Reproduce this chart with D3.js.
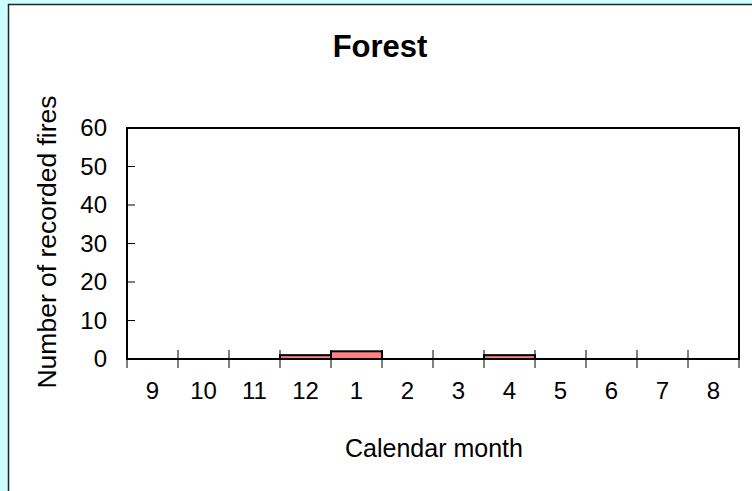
<!DOCTYPE html>
<html>
<head>
<meta charset="utf-8">
<script src="https://cdn.jsdelivr.net/npm/d3@7"></script>
<style>
  body { margin: 0; background: #CCFFFF; }
  svg { display: block; font-family: "Liberation Sans", Arial, sans-serif; }
</style>
</head>
<body>
<div id="chart"></div>
<script>
// calendar months, fire season order
var months = ["9", "10", "11", "12", "1", "2", "3", "4", "5", "6", "7", "8"];
var fires = [0, 0, 0, 1, 2, 0, 0, 1, 0, 0, 0, 0];
var yTicks = [0, 10, 20, 30, 40, 50, 60];

var width = 752, height = 491;
var plot = {left: 127, top: 128, right: 739, bottom: 359};

var svg = d3.select("#chart").append("svg")
    .attr("width", width)
    .attr("height", height);

// white chart panel (runs off the right and bottom edge)
svg.append("rect")
    .attr("x", 8.5).attr("y", 4.5)
    .attr("width", width).attr("height", height)
    .attr("fill", "#fff")
    .attr("stroke", "#222")
    .attr("stroke-width", 1.5);

var x = d3.scaleBand()
    .domain(months)
    .range([plot.left, plot.right])
    .padding(0);

var y = d3.scaleLinear()
    .domain([0, 60])
    .range([plot.bottom, plot.top]);

// bars
svg.selectAll(".bar")
    .data(fires.map(function(v, i) { return {m: months[i], v: v}; }).filter(function(d) { return d.v > 0; }))
    .enter().append("rect")
    .attr("class", "bar")
    .attr("x", function(d) { return x(d.m); })
    .attr("y", function(d) { return y(d.v); })
    .attr("width", x.bandwidth())
    .attr("height", function(d) { return y(0) - y(d.v); })
    .attr("fill", "#FF8080")
    .attr("stroke", "#000")
    .attr("stroke-width", 2);

// plot frame
svg.append("rect")
    .attr("x", plot.left).attr("y", plot.top)
    .attr("width", plot.right - plot.left)
    .attr("height", plot.bottom - plot.top)
    .attr("fill", "none")
    .attr("stroke", "#000")
    .attr("stroke-width", 2);

// y axis: inner ticks + labels
svg.selectAll(".ytick")
    .data(yTicks.filter(function(t) { return t > 0 && t < 60; }))
    .enter().append("line")
    .attr("x1", plot.left).attr("x2", plot.left + 8)
    .attr("y1", function(d) { return y(d); })
    .attr("y2", function(d) { return y(d); })
    .attr("stroke", "#000").attr("stroke-width", 1);

svg.selectAll(".ylab")
    .data(yTicks)
    .enter().append("text")
    .attr("x", 107)
    .attr("y", function(d) { return y(d); })
    .attr("dy", "0.35em")
    .attr("text-anchor", "end")
    .attr("font-size", 24)
    .text(function(d) { return d; });

// x axis ticks at category boundaries
var bounds = months.map(function(m) { return x(m); }).concat([plot.right]);
svg.selectAll(".xtick")
    .data(bounds)
    .enter().append("line")
    .attr("x1", function(d) { return d; })
    .attr("x2", function(d) { return d; })
    .attr("y1", function(d, i) { return (i === 0 || i === bounds.length - 1) ? plot.bottom : plot.bottom - 9; })
    .attr("y2", plot.bottom + 9)
    .attr("stroke", "#000").attr("stroke-width", 1);

svg.selectAll(".xlab")
    .data(months)
    .enter().append("text")
    .attr("x", function(d) { return x(d) + x.bandwidth() / 2; })
    .attr("y", 399)
    .attr("text-anchor", "middle")
    .attr("font-size", 24)
    .text(function(d) { return d; });

// titles
svg.append("text")
    .attr("x", 380).attr("y", 57)
    .attr("text-anchor", "middle")
    .attr("font-size", 31)
    .attr("font-weight", "bold")
    .text("Forest");

svg.append("text")
    .attr("x", 434).attr("y", 457)
    .attr("text-anchor", "middle")
    .attr("font-size", 25)
    .text("Calendar month");

svg.append("text")
    .attr("transform", "translate(56,242) rotate(-90)")
    .attr("text-anchor", "middle")
    .attr("font-size", 26.5)
    .text("Number of recorded fires");
</script>
</body>
</html>
